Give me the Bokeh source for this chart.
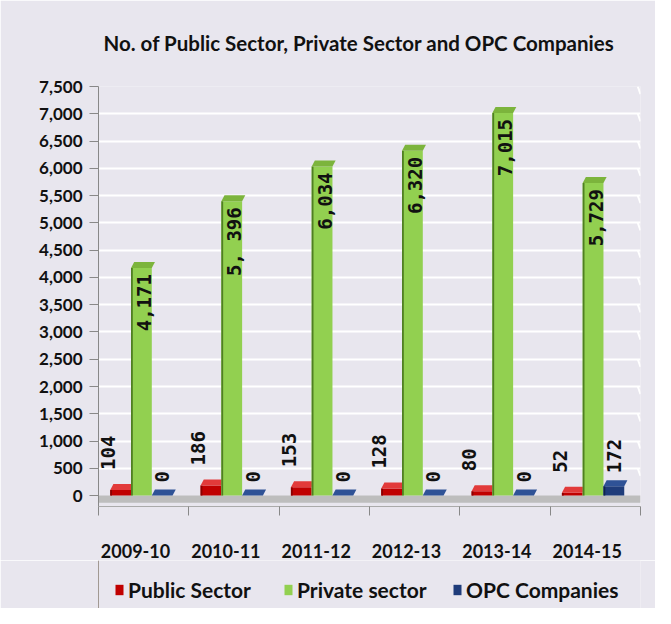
import numpy as np
from bokeh.plotting import figure
from bokeh.layouts import column
from bokeh.models import (Range1d, FixedTicker, Legend, LegendItem, NumeralTickFormatter)
from bokeh.core.properties import value
from bokeh.embed import file_html
from bokeh.resources import INLINE

years = ["2009-10", "2010-11", "2011-12", "2012-13", "2013-14", "2014-15"]
public_sector = [104, 186, 153, 128, 80, 52]
private_sector = [4171, 5396, 6034, 6320, 7015, 5729]
opc_companies = [0, 0, 0, 0, 0, 172]
private_labels = ["4,171", "5, 396", "6,034", "6,320", "7,015", "5,729"]
series_names = ["Public Sector", "Private sector", "OPC Companies"]
y_ticks = list(range(0, 7501, 500))

BG = "#e8e6ee"
FONT = "Lato"

p = figure(width=655, height=560, output_backend="svg", toolbar_location=None,
           x_range=Range1d(0, len(years)), y_range=Range1d(-200, 7500),
           min_border_left=98, min_border_right=15, min_border_top=86, min_border_bottom=51)
p.background_fill_color = BG
p.border_fill_color = BG
p.outline_line_color = None

p.title.text = "No. of Public Sector, Private Sector and OPC Companies"
p.title.align = "left"
p.title.offset = 5
p.title.vertical_align = "top"
p.title.text_font = FONT
p.title.text_font_size = "20.5px"
p.title.text_font_style = "bold"
p.title.text_color = "#111111"
p.title.standoff = 59

p.xgrid.grid_line_color = None
p.ygrid.grid_line_color = "white"
p.ygrid.grid_line_width = 2
p.ygrid.ticker = FixedTicker(ticks=y_ticks[1:])

p.yaxis.ticker = FixedTicker(ticks=y_ticks)
p.yaxis.formatter = NumeralTickFormatter(format="0,0")
p.yaxis.major_label_text_font = FONT
p.yaxis.major_label_text_font_style = "bold"
p.yaxis.major_label_text_font_size = "17px"
p.yaxis.major_label_text_color = "#111111"
p.yaxis.axis_line_color = "#888888"
p.yaxis.major_tick_line_color = "#888888"
p.yaxis.major_tick_out = 9
p.yaxis.major_tick_in = 0
p.yaxis.minor_tick_line_color = None
p.yaxis.major_label_standoff = 7

centers = np.arange(len(years)) + 0.5
label_pos = centers - 0.09
p.xaxis.ticker = FixedTicker(ticks=list(label_pos), minor_ticks=list(range(len(years) + 1)))
p.xaxis.major_label_overrides = {float(c): y for c, y in zip(label_pos, years)}
p.xaxis.major_label_text_font = FONT
p.xaxis.major_label_text_font_style = "bold"
p.xaxis.major_label_text_font_size = "18px"
p.xaxis.major_label_text_color = "#111111"
p.xaxis.major_tick_line_color = None
p.xaxis.major_tick_out = 0
p.xaxis.major_tick_in = 0
p.xaxis.minor_tick_line_color = "#888888"
p.xaxis.minor_tick_out = 9
p.xaxis.minor_tick_in = 0
p.xaxis.axis_line_color = "#aaaaaa"
p.xaxis.major_label_standoff = 28

# side-wall ends of the gridlines
n = len(years)
p.segment(x0=[n - 0.03] * (len(y_ticks) - 1), y0=y_ticks[1:], x1=[n] * (len(y_ticks) - 1),
          y1=[t - 140 for t in y_ticks[1:]], line_color="white", line_width=2)

# floor
p.quad(left=[0], right=[n], bottom=[-130], top=[0], fill_color="#bdbdbd", line_color=None)

W = 0.23
offs = [-0.255, -0.025, 0.205]
colors = [
    ("#c00000", "#e23a3a", "#8a0000"),
    ("#92d050", "#7cb43c", "#4f7f22"),
    ("#1f3c7a", "#2f5296", "#10244d"),
]
dx = 0.035
dy = 110
for i, vals in enumerate([public_sector, private_sector, opc_companies]):
    face, top, edge = colors[i]
    xs = centers + offs[i]
    p.vbar(x=xs, top=vals, bottom=0, width=W, fill_color=face, line_color=None)
    p.vbar(x=xs - W / 2 + 0.01, top=vals, bottom=0, width=0.02, fill_color=edge, line_color=None)
    px = [[x - W / 2, x - W / 2 + dx, x + W / 2 + dx, x + W / 2] for x in xs]
    py = [[v, v + dy, v + dy, v] for v in vals]
    p.patches(px, py, fill_color=top, line_color=None)

lbl_font = value("DejaVu Sans Mono")
common = dict(angle=np.pi / 2, text_baseline="middle", text_font=lbl_font,
              text_font_style="bold", text_font_size="19px", text_color="#111111")
p.text(x=centers + offs[0] - 0.14, y=public_sector, text=[str(v) for v in public_sector],
       text_align="left", y_offset=-20, **common)
p.text(x=centers + offs[1] + 0.03, y=private_sector, text=private_labels,
       text_align="right", y_offset=6, **common)
p.text(x=centers + offs[2], y=opc_companies, text=[str(v) for v in opc_companies],
       text_align="left", y_offset=-13, **common)

# legend strip (frame aligned with the chart's frame by the column layout)
p2 = figure(width=655, height=48, output_backend="svg", toolbar_location=None,
            x_range=Range1d(0, 1), y_range=Range1d(0, 1),
            min_border_left=98, min_border_right=15, min_border_top=0, min_border_bottom=0)
p2.background_fill_color = BG
p2.border_fill_color = BG
p2.outline_line_color = None
p2.axis.visible = False
p2.grid.visible = False
legend_x = [16, 185, 354]
for (face, _, _), name, lx in zip(colors, series_names, legend_x):
    r = p2.vbar(x=[-5], top=[1], width=0.1, fill_color=face, line_color=None)
    lg = Legend(items=[LegendItem(label=name, renderers=[r])], location=(lx, 6),
                background_fill_alpha=0, border_line_color=None,
                label_text_font=FONT, label_text_font_style="bold",
                label_text_font_size="21px", label_text_color="#111111",
                glyph_width=10, glyph_height=13, label_standoff=4,
                padding=0, margin=0)
    p2.add_layout(lg, "center")

layout = column(p, p2, spacing=0)
open("out.html", "w").write(file_html(layout, INLINE))
